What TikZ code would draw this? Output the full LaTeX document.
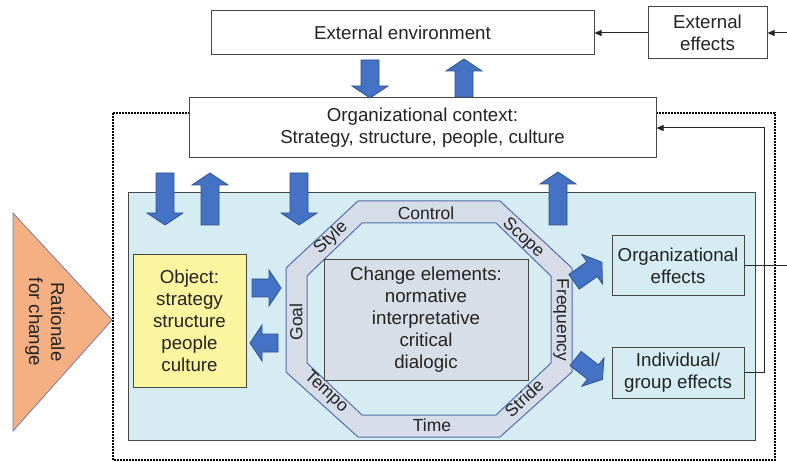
\documentclass[tikz,border=0pt]{standalone}
\usepackage{fontspec}
\setmainfont{Liberation Sans}
\usetikzlibrary{arrows.meta}

\definecolor{arrowblue}{RGB}{68,114,196}
\definecolor{arrowline}{RGB}{47,82,143}
\definecolor{skyfill}{RGB}{213,236,242}
\definecolor{bandfill}{RGB}{214,220,232}
\definecolor{bandline}{RGB}{79,110,170}
\definecolor{elemfill}{RGB}{216,222,232}
\definecolor{objfill}{RGB}{252,245,160}
\definecolor{ratfill}{RGB}{244,176,131}
\definecolor{ratline}{RGB}{110,125,170}
\definecolor{boxline}{RGB}{70,70,70}
\definecolor{textcol}{RGB}{35,35,35}

\tikzset{
  box/.style={draw=boxline, line width=1pt, fill=white, text=textcol, align=center,
    inner sep=0pt, font=\fontsize{18.7}{22}\selectfont},
  bandlabel/.style={text=textcol, inner sep=0pt, font=\fontsize{17.5}{20}\selectfont},
  conn/.style={draw=black!85, line width=1pt, -{Triangle[length=7pt,width=6pt]}},
  plainline/.style={draw=black!85, line width=1pt},
  blockarrow/.style={fill=arrowblue, draw=arrowline, line width=0.8pt, line join=miter},
}

% block arrows: x or y of the axis, start, tip
\newcommand{\downarr}[3]{\filldraw[blockarrow] ({#1-9},#2) -- ({#1+9},#2) -- ({#1+9},{#3-12}) -- ({#1+18},{#3-12}) -- (#1,#3) -- ({#1-18},{#3-12}) -- ({#1-9},{#3-12}) -- cycle;}
\newcommand{\uparr}[3]{\filldraw[blockarrow] ({#1-9},#2) -- ({#1+9},#2) -- ({#1+9},{#3+12}) -- ({#1+18},{#3+12}) -- (#1,#3) -- ({#1-18},{#3+12}) -- ({#1-9},{#3+12}) -- cycle;}
\newcommand{\rightarr}[3]{\filldraw[blockarrow] (#2,{#1-9}) -- ({#3-12},{#1-9}) -- ({#3-12},{#1-18}) -- (#3,#1) -- ({#3-12},{#1+18}) -- ({#3-12},{#1+9}) -- (#2,{#1+9}) -- cycle;}
\newcommand{\leftarr}[3]{\filldraw[blockarrow] (#2,{#1-9}) -- ({#3+12},{#1-9}) -- ({#3+12},{#1-18}) -- (#3,#1) -- ({#3+12},{#1+18}) -- ({#3+12},{#1+9}) -- (#2,{#1+9}) -- cycle;}

\begin{document}
\begin{tikzpicture}[x=1pt, y=-1pt]
%\draw[help lines, color=gray!30] (0,0) grid[step=50] (787,462);
\useasboundingbox (0,0) rectangle (787,462);

% dotted organisation frame
\draw[line width=1.8pt, dash pattern=on 2pt off 1pt] (113,113) rectangle (775,460);

\node[box, minimum width=383pt, minimum height=44pt] (env) at (402.5,33) {External environment};
\node[box, minimum width=119pt, minimum height=52pt] (effects) at (707.5,33) {External\\effects};
\node[box, minimum width=467pt, minimum height=60pt] (ctx) at (422.5,128) {Organizational context:\\Strategy, structure, people, culture};

\filldraw[fill=skyfill, draw=boxline, line width=1pt] (128,193) rectangle (755,440);

% rationale
\filldraw[fill=ratfill, draw=ratline, line width=0.8pt] (13,213) -- (112,320) -- (13,431) -- cycle;
\node[text=textcol, align=center, rotate=-90, font=\fontsize{18.7}{22}\selectfont] (rationale) at (45,322) {Rationale\\for change};

\node[box, fill=objfill, minimum width=113pt, minimum height=132pt] (object) at (189.5,321) {Object:\\strategy\\structure\\people\\culture};

% octagon
\filldraw[fill=bandfill, draw=bandline, line width=1pt] (358,201) -- (500,201) -- (572,268) -- (572,372) -- (500,437) -- (358,437) -- (286,372) -- (286,268) -- cycle;
\filldraw[fill=skyfill, draw=bandline, line width=1pt] (362,223) -- (496,223) -- (551,276) -- (551,363) -- (496,415) -- (362,415) -- (307,363) -- (307,276) -- cycle;
\node[box, fill=elemfill, minimum width=204pt, minimum height=120pt] (elements) at (426,320) {Change elements:\\normative\\interpretative\\critical\\dialogic};

\node[bandlabel] (control) at (426,213) {Control};
\node[bandlabel] (time) at (432,425) {Time};
\node[bandlabel, rotate=90] (goal) at (296,322) {Goal};
\node[bandlabel, rotate=-90] (frequency) at (561,320) {Frequency};
\node[bandlabel, rotate=43] (style) at (331,238) {Style};
\node[bandlabel, rotate=-43] (scope) at (523,238) {Scope};
\node[bandlabel, rotate=-43] (tempo) at (326,392) {Tempo};
\node[bandlabel, rotate=43] (stride) at (524,398) {Stride};

\node[box, fill=skyfill, minimum width=132pt, minimum height=60pt] (orgfx) at (678,266) {Organizational\\effects};
\node[box, fill=skyfill, minimum width=132pt, minimum height=51pt] (indfx) at (678,372.5) {Individual/\\group effects};

% block arrows
\downarr{370}{60}{98}
\uparr{464}{97}{59}
\downarr{165}{173}{225}
\uparr{210}{225}{173}
\downarr{299}{173}{225}
\uparr{558}{225}{172}
\rightarr{288}{252}{281}
\leftarr{343}{278}{250}
\begin{scope}[shift={(588,272)}, rotate=35]
\rightarr{0}{-17}{17}
\end{scope}
\begin{scope}[shift={(589,369)}, rotate=-38]
\rightarr{0}{-17}{17}
\end{scope}

% feedback lines
\coordinate (rin) at (787,33);
\coordinate (rout) at (787,266);
\coordinate (bend) at (764,128);
\draw[conn] (effects.west) -- (env.east);
\draw[conn] (rin) -- (effects.east);
\draw[plainline] (orgfx.east) -- (rout);
\draw[conn] (indfx.east) -| (bend) -- (bend -| ctx.east);

\end{tikzpicture}
\end{document}
